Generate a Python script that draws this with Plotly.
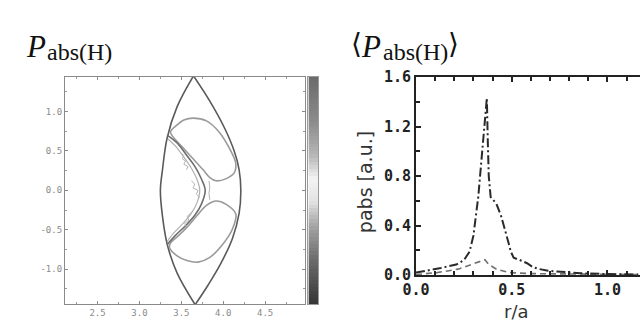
import plotly.graph_objects as go

# ---------------- left panel: P_abs(H) contour lines in (R, Z) ----------------
bound_left_R = [3.645, 3.45, 3.33, 3.275, 3.25, 3.275, 3.333, 3.45, 3.665]
bound_left_Z = [1.45, 1.06, 0.66, 0.26, 0.0, -0.33, -0.69, -1.05, -1.45]
bound_right_R = [3.645, 3.84, 4.02, 4.13, 4.19, 4.21, 4.19, 4.11, 3.97, 3.82, 3.665]
bound_right_Z = [1.45, 1.13, 0.78, 0.50, 0.26, 0.0, -0.29, -0.61, -0.93, -1.20, -1.45]

upper_R = [3.64, 3.80, 3.95, 4.07, 4.15, 4.13, 4.03, 3.915, 3.84, 3.76, 3.64, 3.51, 3.40, 3.37, 3.45, 3.53, 3.64]
upper_Z = [0.915, 0.88, 0.74, 0.54, 0.34, 0.22, 0.145, 0.12, 0.16, 0.26, 0.40, 0.55, 0.68, 0.74, 0.83, 0.89, 0.915]

lower_R = [3.70, 3.84, 3.99, 4.11, 4.15, 4.03, 3.915, 3.80, 3.68, 3.566, 3.45, 3.37, 3.36, 3.45, 3.566, 3.70]
lower_Z = [-0.91, -0.85, -0.69, -0.49, -0.30, -0.175, -0.135, -0.19, -0.33, -0.47, -0.59, -0.67, -0.73, -0.83, -0.89, -0.91]

front_R = [3.33, 3.45, 3.566, 3.663, 3.74, 3.785, 3.74, 3.663, 3.547, 3.43, 3.33]
front_Z = [0.70, 0.60, 0.44, 0.30, 0.143, 0.0, -0.175, -0.313, -0.452, -0.571, -0.69]

front2_R = [3.34, 3.43, 3.53, 3.62, 3.69, 3.72, 3.69, 3.62, 3.52, 3.41, 3.33]
front2_Z = [0.65, 0.56, 0.42, 0.28, 0.13, 0.0, -0.15, -0.29, -0.42, -0.54, -0.65]

speck_R = [3.50, 3.53, 3.51, 3.55, 3.53, 3.58, 3.56, None,
           3.62, 3.66, 3.64, 3.70, 3.68, 3.72, None,
           3.52, 3.56, 3.54, 3.59, 3.57, 3.62, None,
           3.83, 3.84, 3.83, 3.84]
speck_Z = [0.47, 0.44, 0.40, 0.37, 0.33, 0.30, 0.26, None,
           0.12, 0.08, 0.03, 0.0, -0.05, -0.09, None,
           -0.50, -0.46, -0.42, -0.38, -0.33, -0.28, None,
           0.12, 0.04, -0.04, -0.12]

left_x_ticks = [2.5, 3.0, 3.5, 4.0, 4.5]
left_x_labels = ["2.5", "3.0", "3.5", "4.0", "4.5"]
left_y_ticks = [-1.0, -0.5, 0.0, 0.5, 1.0]
left_y_labels = ["-1.0", "-0.5", "0.0", "0.5", "1.0"]

# colour bar levels (bottom -> top)
colorbar_levels = [i / 63 for i in range(64)]
colorbar_scale = [[0.0, "#363636"], [0.2, "#6e6e6e"], [0.35, "#a8a8a8"],
                  [0.45, "#e2e2e2"], [0.55, "#f4f4f4"], [0.65, "#b8b8b8"],
                  [0.8, "#8c8c8c"], [1.0, "#6a6a6a"]]

# ---------------- right panel: <P_abs(H)> profile ----------------
r_total = [0.0, 0.05, 0.13, 0.21, 0.25, 0.28, 0.30, 0.325, 0.35, 0.37, 0.375, 0.38,
           0.39, 0.42, 0.445, 0.46, 0.48, 0.495, 0.51, 0.545, 0.58, 0.61, 0.64,
           0.69, 0.76, 0.86, 1.0, 1.17]
p_total = [0.02, 0.033, 0.058, 0.085, 0.12, 0.19, 0.32, 0.63, 1.08, 1.43, 1.08, 0.80,
           0.63, 0.576, 0.475, 0.40, 0.28, 0.19, 0.14, 0.12, 0.096, 0.065, 0.05,
           0.035, 0.025, 0.015, 0.008, 0.005]

r_part = [0.0, 0.11, 0.22, 0.29, 0.36, 0.38, 0.42, 0.49, 0.6, 0.75, 0.9, 1.05, 1.17]
p_part = [0.005, 0.02, 0.048, 0.086, 0.124, 0.086, 0.048, 0.02, 0.012, 0.01, 0.008, 0.005, 0.004]

W, H = 640, 329


def px(x):
    return x / W


def py(y):
    return 1 - y / H


fig = go.Figure()

# left panel contours
fig.add_trace(go.Scatter(x=bound_left_R, y=bound_left_Z, mode="lines",
                         line=dict(color="#5a5a5a", width=1.6, shape="spline"),
                         xaxis="x", yaxis="y", showlegend=False))
fig.add_trace(go.Scatter(x=bound_right_R, y=bound_right_Z, mode="lines",
                         line=dict(color="#5a5a5a", width=1.6, shape="spline"),
                         xaxis="x", yaxis="y", showlegend=False))
fig.add_trace(go.Scatter(x=upper_R, y=upper_Z, mode="lines",
                         line=dict(color="#9a9a9a", width=1.6, shape="spline"),
                         xaxis="x", yaxis="y", showlegend=False))
fig.add_trace(go.Scatter(x=lower_R, y=lower_Z, mode="lines",
                         line=dict(color="#9a9a9a", width=1.6, shape="spline"),
                         xaxis="x", yaxis="y", showlegend=False))
fig.add_trace(go.Scatter(x=front2_R, y=front2_Z, mode="lines",
                         line=dict(color="#b0b0b0", width=1.2, shape="spline"),
                         xaxis="x", yaxis="y", showlegend=False))
fig.add_trace(go.Scatter(x=front_R, y=front_Z, mode="lines",
                         line=dict(color="#6e6e6e", width=1.6, shape="spline"),
                         xaxis="x", yaxis="y", showlegend=False))
fig.add_trace(go.Scatter(x=speck_R, y=speck_Z, mode="lines",
                         line=dict(color="#b4b4b4", width=1),
                         xaxis="x", yaxis="y", showlegend=False))

# colour bar as a thin heatmap
fig.add_trace(go.Heatmap(z=[[v] for v in colorbar_levels], x=[0], y=colorbar_levels,
                         colorscale=colorbar_scale, showscale=False,
                         xaxis="x3", yaxis="y3", hoverinfo="skip"))

# right panel profiles
fig.add_trace(go.Scatter(x=r_part, y=p_part, mode="lines",
                         line=dict(color="#707070", width=1.6, dash="6px,4px"),
                         xaxis="x2", yaxis="y2", showlegend=False))
fig.add_trace(go.Scatter(x=r_total, y=p_total, mode="lines",
                         line=dict(color="#2a2a2a", width=2, dash="9px,3px,2px,3px"),
                         xaxis="x2", yaxis="y2", showlegend=False))

small_font = dict(family="DejaVu Sans Mono", size=9, color="#8a8a8a")
big_font = dict(family="DejaVu Sans Mono", size=15, color="#222222", weight="bold")

fig.update_layout(
    width=W, height=H,
    margin=dict(l=0, r=0, t=0, b=0),
    paper_bgcolor="white", plot_bgcolor="white",
    xaxis=dict(domain=[px(52), px(297)], range=[2.11, 4.97],
               showline=True, linecolor="#8a8a8a", linewidth=1, mirror="ticks",
               ticks="inside", ticklen=3, tickcolor="#8a8a8a",
               tickvals=left_x_ticks, ticktext=left_x_labels, tickfont=small_font,
               minor=dict(dtick=0.25, tick0=0, ticks="inside", ticklen=2, tickcolor="#9a9a9a"),
               showgrid=False, zeroline=False),
    yaxis=dict(domain=[py(312), py(72)], range=[-1.44, 1.435],
               showline=True, linecolor="#8a8a8a", linewidth=1, mirror="ticks",
               ticks="inside", ticklen=3, tickcolor="#8a8a8a",
               tickvals=left_y_ticks, ticktext=left_y_labels, tickfont=small_font,
               minor=dict(dtick=0.25, tick0=0, ticks="inside", ticklen=2, tickcolor="#9a9a9a"),
               showgrid=False, zeroline=False),
    xaxis3=dict(domain=[px(301), px(311)], range=[-0.5, 0.5],
                showline=True, linecolor="#9a9a9a", linewidth=1, mirror=True,
                showticklabels=False, ticks="", showgrid=False, zeroline=False),
    yaxis3=dict(domain=[py(312), py(72)], range=[0, 1], anchor="x3",
                showline=True, linecolor="#9a9a9a", linewidth=1, mirror=True,
                showticklabels=False, ticks="", showgrid=False, zeroline=False),
    xaxis2=dict(domain=[px(411), 1.0], range=[0, 1.17], anchor="y2",
                showline=True, linecolor="#222222", linewidth=2, mirror="ticks",
                ticks="inside", ticklen=5, tickwidth=1.5, tickcolor="#222222",
                dtick=0.5, tick0=0, tickformat=".1f", tickfont=big_font,
                minor=dict(dtick=0.1, tick0=0, ticks="inside", ticklen=4, tickcolor="#222222"),
                showgrid=False, zeroline=False),
    yaxis2=dict(domain=[py(281.5), py(72)], range=[0, 1.6], anchor="x2",
                showline=True, linecolor="#222222", linewidth=2, mirror=False,
                ticks="inside", ticklen=5, tickwidth=1.5, tickcolor="#222222",
                dtick=0.4, tick0=0, tickformat=".1f", tickfont=big_font,
                minor=dict(dtick=0.2, tick0=0, ticks="inside", ticklen=4, tickcolor="#222222"),
                showgrid=False, zeroline=False),
)

serif = "Liberation Serif"
ann = [
    dict(text="<i>P</i>", x=px(22), y=py(40), font=dict(family=serif, size=31, color="#111")),
    dict(text="abs(H)", x=px(32), y=py(45), xanchor="left", font=dict(family=serif, size=24, color="#111")),
    dict(text="⟨", x=px(350), y=py(37), font=dict(family="DejaVu Serif", size=28, color="#111")),
    dict(text="<i>P</i>", x=px(365), y=py(40), font=dict(family=serif, size=31, color="#111")),
    dict(text="abs(H)", x=px(375), y=py(45), xanchor="left", font=dict(family=serif, size=24, color="#111")),
    dict(text="⟩", x=px(442), y=py(37), xanchor="left", font=dict(family="DejaVu Serif", size=28, color="#111")),
    dict(text="pabs [a.u.]", x=px(359), y=py(183), textangle=-90,
         font=dict(family="DejaVu Sans", size=19, color="#333")),
    dict(text="r/a", x=px(514), y=py(320), font=dict(family="DejaVu Sans", size=18, color="#333")),
]
for a in ann:
    a.setdefault("xanchor", "center")
    a.setdefault("yanchor", "middle")
    a.update(xref="paper", yref="paper", showarrow=False)
fig.update_layout(annotations=ann)

fig.write_html("out.html", config={"displayModeBar": False},
               post_script="document.body.style.margin='0';document.body.style.overflow='hidden';")
